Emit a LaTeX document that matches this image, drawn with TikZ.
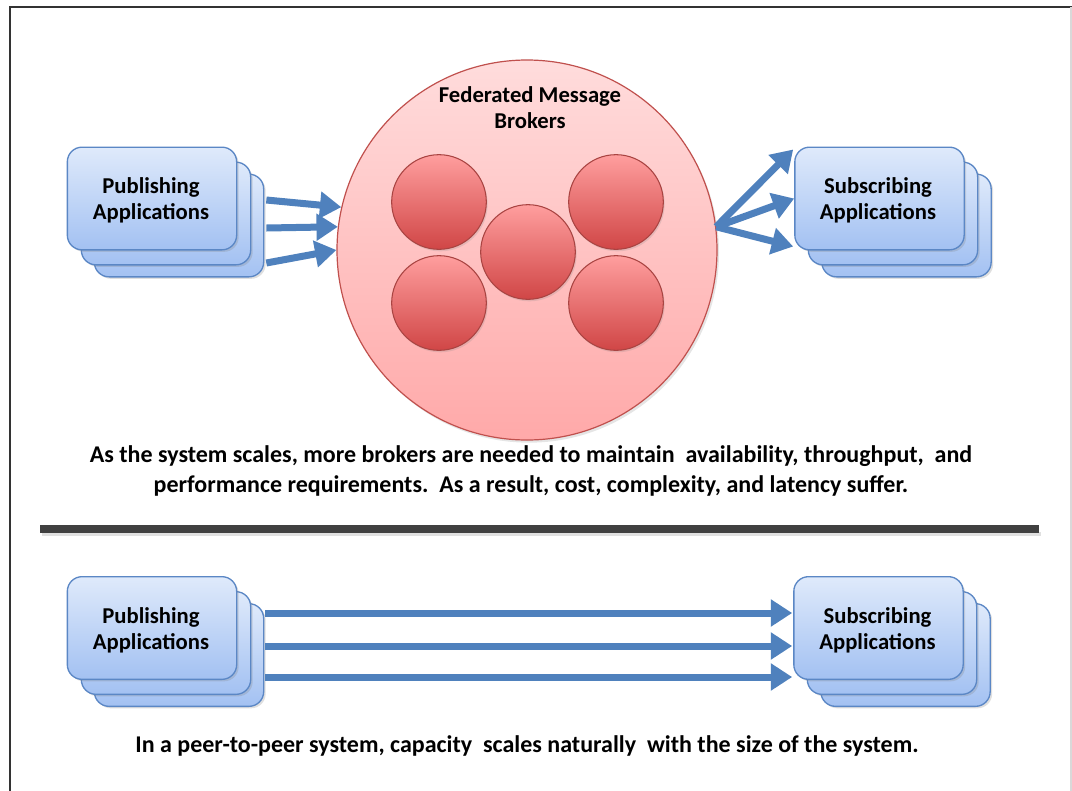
\documentclass[tikz,border=0pt]{standalone}
\usepackage{fontspec}
\setmainfont{Carlito}
\usetikzlibrary{arrows.meta,shadows,calc}
\definecolor{boxedge}{HTML}{5B87C5}
\definecolor{boxtop}{HTML}{DFEAFB}
\definecolor{boxbot}{HTML}{A3C1F2}
\definecolor{arrowc}{HTML}{4F81BD}
\definecolor{bigtop}{HTML}{FFDCDC}
\definecolor{bigbot}{HTML}{FFA9A9}
\definecolor{bigedge}{HTML}{C0504D}
\definecolor{smtop}{HTML}{FF9E9E}
\definecolor{smbot}{HTML}{D04646}
\definecolor{smedge}{HTML}{A94442}
\definecolor{divc}{HTML}{404040}
\begin{document}
\begin{tikzpicture}[x=0.75pt,y=-0.75pt,
  appbox/.style={draw=boxedge,line width=1pt,rounded corners=11pt,top color=boxtop,bottom color=boxbot,
    minimum width=127pt,minimum height=77pt,inner sep=0pt,
    drop shadow={shadow xshift=1.5pt,shadow yshift=-1.5pt,opacity=0.25}},
  apptext/.style={font=\bfseries\fontsize{17}{19.5}\selectfont,align=center},
  captext/.style={font=\bfseries\fontsize{18}{22.5}\selectfont,align=center},
  ball/.style={circle,draw=smedge,line width=0.8pt,top color=smtop,bottom color=smbot,minimum size=71pt,inner sep=0pt,
    drop shadow={shadow xshift=1pt,shadow yshift=-1.5pt,opacity=0.2}},
  flow/.style={draw=arrowc,line width=5.25pt,-{Triangle[width=19.5pt,length=16pt]}}
]
\useasboundingbox (0,0) rectangle (1072,790);
\fill[white] (0,0) rectangle (1072,790);
% frame
\draw[line width=1.4pt,black!80] (10,795) -- (10,7) -- (1075,7);
\draw[line width=0.8pt,black!15] (1071,7) -- (1071,795);

% ===== top section =====
\node[circle,draw=bigedge,line width=0.9pt,top color=bigtop,bottom color=bigbot,minimum size=285pt,inner sep=0pt,
  drop shadow={shadow xshift=1.5pt,shadow yshift=-2pt,opacity=0.2}] (fed) at (527,250) {};
\node[apptext] (fedtxt) at (530,108) {Federated Message\\Brokers};
\node[ball] (b1) at (439,202) {};
\node[ball] (b2) at (616,202) {};
\node[ball] (b4) at (439,303) {};
\node[ball] (b5) at (616,303) {};
\node[ball] (b3) at (528,252) {};

\node[appbox] (pubC) at (179,225.5) {};
\node[appbox] (pubB) at (166,213.5) {};
\node[appbox] (pubA) at (152,198.5) {};
\node[apptext] (pubAt) at (151,200.5) {Publishing\\Applications};

\node[appbox] (subC) at (906.5,225.5) {};
\node[appbox] (subB) at (893,213.5) {};
\node[appbox] (subA) at (879.5,198.5) {};
\node[apptext] (subAt) at (878,200.5) {Subscribing\\Applications};

\coordinate (ps1) at ($(pubC.east)+(2,-25.5)$);
\coordinate (ps2) at ($(pubC.east)+(2,2.5)$);
\coordinate (ps3) at ($(pubC.east)+(2,37.5)$);
\draw[flow] (ps1) -- (fed.167);
\draw[flow] (ps2) -- (fed.173);
\draw[flow] (ps3) -- (fed.180);

\draw[flow] (fed.7) -- ($(subA.north west)+(-1,3)$);
\draw[flow] (fed.7) -- (subA.west);
\draw[flow] (fed.7) -- ($(subA.south west)+(-1,-4)$);

\node[captext] (cap1) at (531,471) {As the system scales, more brokers are needed to maintain\ \ availability, throughput,\ \ and\\performance requirements.\ \ As a result, cost, complexity, and latency suffer.};

% divider
\fill[black!12] (42,532) rectangle (1041,536);
\fill[divc] (40,525) rectangle (1039,533);

% ===== bottom section =====
\node[appbox] (pubC2) at (179,655) {};
\node[appbox] (pubB2) at (166,643) {};
\node[appbox] (pubA2) at (152,628) {};
\node[apptext] (pubA2t) at (151,630) {Publishing\\Applications};

\node[appbox] (subC2) at (905.5,655) {};
\node[appbox] (subB2) at (892,643) {};
\node[appbox] (subA2) at (878.5,628) {};
\node[apptext] (subA2t) at (877.5,630) {Subscribing\\Applications};

\draw[flow] ($(pubC2.east)+(1,-42)$) -- ($(subA2.west)+(-1,-15)$);
\draw[flow] ($(pubC2.east)+(1,-9)$) -- ($(subA2.west)+(-1,18)$);
\draw[flow] ($(pubC2.east)+(1,22)$) -- ($(subA2.west)+(-1,49)$);

\node[captext] (cap2) at (527,746) {In a peer-to-peer system, capacity\ \ scales naturally\ \ with the size of the system.};
\end{tikzpicture}
\end{document}
